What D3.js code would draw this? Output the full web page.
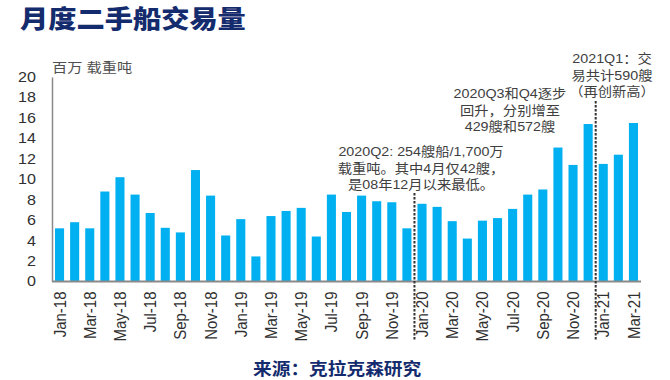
<!DOCTYPE html>
<html>
<head>
<meta charset="utf-8">
<script src="https://cdn.jsdelivr.net/npm/d3@7"></script>
<style>
  html, body { margin: 0; padding: 0; background: #fff; }
  svg { display: block; }
  text { font-family: "Liberation Sans", Arial, "Noto Sans CJK SC", sans-serif; }
</style>
</head>
<body>
<svg id="chart" width="670" height="380"></svg>
<script>
// ---- data ----
const months = [
  "Jan-18","Feb-18","Mar-18","Apr-18","May-18","Jun-18","Jul-18","Aug-18","Sep-18","Oct-18","Nov-18","Dec-18",
  "Jan-19","Feb-19","Mar-19","Apr-19","May-19","Jun-19","Jul-19","Aug-19","Sep-19","Oct-19","Nov-19","Dec-19",
  "Jan-20","Feb-20","Mar-20","Apr-20","May-20","Jun-20","Jul-20","Aug-20","Sep-20","Oct-20","Nov-20","Dec-20",
  "Jan-21","Feb-21","Mar-21"
];
const values = [
  5.2, 5.8, 5.2, 8.8, 10.2, 8.5, 6.7, 5.25, 4.8, 10.9, 8.4, 4.5,
  6.1, 2.45, 6.4, 6.9, 7.2, 4.4, 8.5, 6.8, 8.4, 7.85, 7.75, 5.2,
  7.6, 7.3, 5.9, 4.2, 5.95, 6.2, 7.1, 8.5, 9.0, 13.1, 11.4, 15.4,
  11.5, 12.4, 15.5
];
const yTicks = [0, 2, 4, 6, 8, 10, 12, 14, 16, 18, 20];
const xTickLabels = months.filter((m, i) => i % 2 === 0);
const dividers = [["Dec-19", "Jan-20"], ["Dec-20", "Jan-21"]];
const title = "月度二手船交易量";
const unitLabel = "百万 载重吨";
const source = "来源：克拉克森研究";
const notes = [
  ["2020Q2: 254艘船/1,700万", "载重吨。其中4月仅42艘，", "是08年12月以来最低。"],
  ["2020Q3和Q4逐步", "回升，分别增至", "429艘和572艘"],
  ["2021Q1：交", "易共计590艘", "（再创新高）"]
];

// ---- layout ----
const SX = 1.15; // horizontal stretch seen in the reference
const svg = d3.select("#chart");
const pLeft = 52, pRight = 641, pTop = 77, pBottom = 281.5;

const x = d3.scaleBand().domain(months).range([pLeft, pRight]).paddingInner(0.4).paddingOuter(0.2);
const y = d3.scaleLinear().domain([0, 20]).range([pBottom, pTop]);

// bars
svg.append("g").selectAll("rect").data(values).join("rect")
  .attr("x", (d, i) => x(months[i]))
  .attr("y", d => y(d))
  .attr("width", x.bandwidth())
  .attr("height", d => y(0) - y(d))
  .attr("fill", "#00b0f0");

// y axis
const yAxis = svg.append("g").attr("transform", `translate(${pLeft},0)`)
  .call(d3.axisLeft(y).tickValues(yTicks).tickSize(0).tickFormat(d3.format("d")));
yAxis.select(".domain").attr("stroke", "#8a8a8a").attr("stroke-width", 1.5);
yAxis.selectAll(".tick text")
  .attr("x", 0)
  .attr("transform", `translate(-16,0) scale(${SX},1)`)
  .attr("font-size", 14)
  .attr("fill", "#303030")
  .style("font-family", '"Liberation Sans", Arial, sans-serif');

// x axis
const xAxis = svg.append("g").attr("transform", `translate(0,${pBottom})`)
  .call(d3.axisBottom(x).tickValues(xTickLabels).tickSize(0));
xAxis.select(".domain").attr("stroke", "#8a8a8a").attr("stroke-width", 2)
  .attr("d", `M${pLeft},0H${pRight}`);
xAxis.selectAll(".tick text")
  .attr("x", 0).attr("y", 0).attr("dy", "0.35em")
  .attr("text-anchor", "end")
  .attr("transform", `translate(0,10) scale(${SX},1) rotate(-90)`)
  .attr("font-size", 15)
  .attr("fill", "#303030")
  .style("font-family", '"Liberation Sans", Arial, sans-serif');

// dividers
const divTops = [193, 101];
dividers.forEach(([a, b], k) => {
  const xm = (x(a) + x.bandwidth() / 2 + x(b) + x.bandwidth() / 2) / 2;
  svg.append("line")
    .attr("x1", xm).attr("x2", xm)
    .attr("y1", divTops[k]).attr("y2", 340)
    .attr("stroke", "#333").attr("stroke-width", 2)
    .attr("stroke-dasharray", "2.5,1.5");
});

// helper for stretched text
function stext(tx, ty, str, size, opts = {}) {
  const g = svg.append("g").attr("transform", `translate(${tx},${ty}) scale(${opts.sx || SX},1)`);
  const t = g.append("text")
    .attr("x", 0).attr("y", 0)
    .attr("font-size", size)
    .attr("text-anchor", opts.anchor || "start")
    .attr("font-weight", opts.weight || "normal")
    .attr("fill", opts.fill || "#404040")
    .text(str);
  if (opts.family) t.style("font-family", opts.family);
  return t;
}

// title
stext(20, 28, title, 25, { weight: 900, fill: "#142c6e", sx: 1.13, family: '"Noto Sans CJK SC", sans-serif' });
// unit
stext(52, 72, unitLabel, 13, { fill: "#505050", sx: 1.17 });
// source
stext(253, 375, source, 17, { weight: 700, fill: "#142c6e", sx: 1.1, family: '"Noto Sans CJK SC", sans-serif' });

// annotations
const noteAnchors = [[421, 156], [510, 98], [612, 63]];
notes.forEach((lines, k) => {
  lines.forEach((ln, j) => {
    stext(noteAnchors[k][0], noteAnchors[k][1] + j * 16.5, ln, 13, { anchor: "middle", fill: "#404040", sx: 1.1 });
  });
});
</script>
</body>
</html>
